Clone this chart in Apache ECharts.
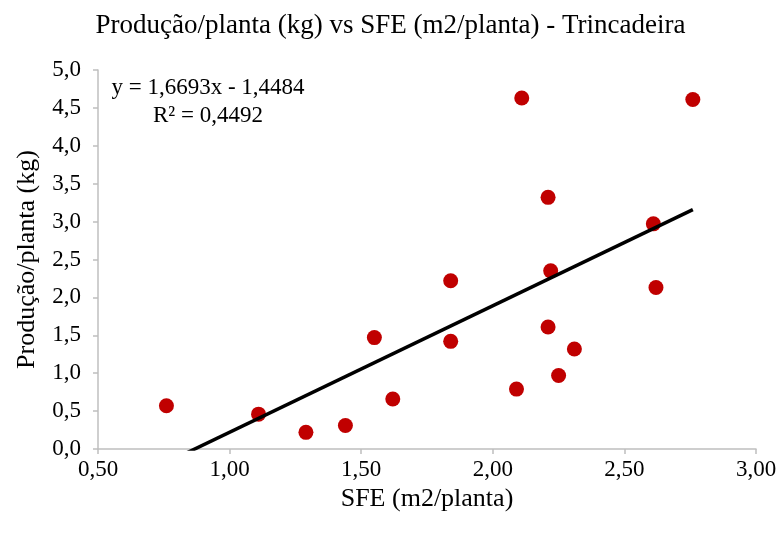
<!DOCTYPE html>
<html>
<head>
<meta charset="utf-8">
<script src="https://cdn.jsdelivr.net/npm/echarts@6/dist/echarts.min.js"></script>
<style>
html,body{margin:0;padding:0;background:#fff;}
#chart{width:781px;height:534px;}
</style>
</head>
<body>
<div id="chart"></div>
<script>
var sfe = [0.76, 1.11, 1.29, 1.44, 1.55, 1.62, 1.84, 1.84, 2.09, 2.11, 2.21, 2.21, 2.22, 2.25, 2.31, 2.61, 2.62, 2.76];
var producao = [0.57, 0.46, 0.22, 0.31, 1.47, 0.66, 1.42, 2.22, 0.79, 4.63, 3.32, 1.61, 2.35, 0.97, 1.32, 2.97, 2.13, 4.61];
var slope = 1.6693;
var intercept = -1.4484;
var r2 = 0.4492;
var xTicks = [0.5, 1.0, 1.5, 2.0, 2.5, 3.0];
var yTicks = [0, 0.5, 1, 1.5, 2, 2.5, 3, 3.5, 4, 4.5, 5];

var points = sfe.map(function (x, i) { return [x, producao[i]]; });
var xMin = Math.min.apply(null, sfe), xMax = Math.max.apply(null, sfe);
var trend = [[xMin, slope * xMin + intercept], [xMax, slope * xMax + intercept]];
function fmt(v, d) { return v.toFixed(d).replace('.', ','); }

var font = '"Liberation Serif", "Times New Roman", serif';
var chart = echarts.init(document.getElementById('chart'), null, {renderer: 'canvas'});
chart.setOption({
  animation: false,
  backgroundColor: '#fff',
  title: {
    text: 'Produção/planta (kg) vs SFE (m2/planta) - Trincadeira',
    left: 'center', top: 7,
    textStyle: {fontFamily: font, fontSize: 27, fontWeight: 'normal', color: '#000'}
  },
  grid: {left: 98, right: 25, top: 70, bottom: 85},
  xAxis: {
    type: 'value', min: xTicks[0], max: xTicks[xTicks.length - 1], interval: 0.5,
    name: 'SFE (m2/planta)', nameLocation: 'middle', nameGap: 25,
    nameTextStyle: {fontFamily: font, fontSize: 26, color: '#000'},
    axisLine: {lineStyle: {color: '#bfbfbf', width: 1.5}},
    axisTick: {show: true, length: 5, lineStyle: {color: '#bfbfbf', width: 1.5}},
    axisLabel: {fontFamily: font, fontSize: 23, color: '#000', margin: 9,
      formatter: function (v) { return fmt(v, 2); }},
    splitLine: {show: false}
  },
  yAxis: {
    type: 'value', min: yTicks[0], max: yTicks[yTicks.length - 1], interval: 0.5,
    name: 'Produção/planta (kg)', nameLocation: 'middle', nameGap: 58,
    nameTextStyle: {fontFamily: font, fontSize: 26, color: '#000'},
    axisLine: {show: true, lineStyle: {color: '#bfbfbf', width: 1.5}},
    axisTick: {show: true, length: 5, lineStyle: {color: '#bfbfbf', width: 1.5}},
    axisLabel: {fontFamily: font, fontSize: 23, color: '#000', margin: 17,
      formatter: function (v) { return fmt(v, 1); }},
    splitLine: {show: false}
  },
  series: [
    {
      type: 'line', data: trend, showSymbol: false, symbol: 'none', clip: true,
      lineStyle: {color: '#000', width: 3.5}, z: 3, silent: true
    },
    {
      type: 'scatter', data: points, symbolSize: 15,
      itemStyle: {color: '#C00000', opacity: 1}, z: 2
    }
  ],
  graphic: [
    {
      type: 'text', x: 208, y: 88,
      style: {
        text: 'y = ' + fmt(slope, 4) + 'x - ' + fmt(-intercept, 4),
        font: '23px ' + font, fill: '#000', align: 'center', verticalAlign: 'middle'
      }
    },
    {
      type: 'text', x: 208, y: 116,
      style: {
        text: 'R² = ' + fmt(r2, 4),
        font: '23px ' + font, fill: '#000', align: 'center', verticalAlign: 'middle'
      }
    }
  ]
});
</script>
</body>
</html>
